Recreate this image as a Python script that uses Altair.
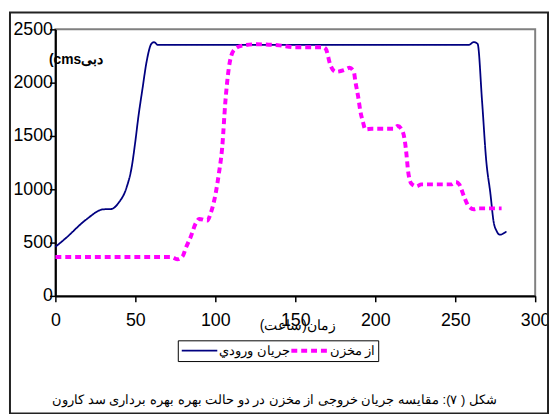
import altair as alt
import pandas as pd

# --- data ---
series_names = ["جريان ورودي", "از مخزن"]

inflow_x = [0, 6.6, 19, 30, 35, 39.5, 44.6, 47.7, 50, 51.8, 54.5, 57, 60, 61.7, 64,
            120, 200, 258.5, 261.6, 264, 266.8, 269.4, 272, 274, 276, 278, 282]
inflow_y = [460, 543, 713, 812, 815, 873, 1021, 1207, 1450, 1669, 1947, 2194, 2364, 2380, 2355,
            2355, 2355, 2355, 2380, 2364, 1824, 1268, 960, 697, 605, 574, 605]

outflow_x = [0, 72.4, 76.5, 79.6, 81.6, 84.7, 87.8, 89.9, 95, 97.1, 100.2, 102.2, 104.3, 106.3,
             108.4, 111.5, 115.6, 125, 140, 150, 167, 169, 172, 175.3, 180.4, 184, 186.6, 187.6,
             189.3, 190.7, 192.2, 193.8, 198, 211.3, 214, 216.5, 218.5, 219.5, 220.5, 222.6,
             225.7, 228.8, 247.3, 250.4, 252.5, 255.6, 258.6, 261.7, 264.8, 279]
outflow_y = [364, 364, 343, 373, 451, 558, 682, 722, 707, 775, 960, 1145, 1392, 1824,
             2132, 2303, 2343, 2360, 2350, 2333, 2333, 2318, 2163, 2102, 2117, 2139, 2102, 2009,
             1870, 1731, 1639, 1562, 1568, 1568, 1593, 1562, 1454, 1330, 1176, 1053,
             1028, 1046, 1046, 1068, 1046, 929, 836, 812, 821, 821]

x_ticks = [0, 50, 100, 150, 200, 250, 300]
y_ticks = [0, 500, 1000, 1500, 2000, 2500]

x_title = "زمان(ساعت)"
y_title = "(cmsدبی"
caption = "شکل ( ۷): مقایسه جریان خروجی از مخزن در دو حالت بهره بهره برداری سد کارون"

df = pd.concat([
    pd.DataFrame({"t": inflow_x, "q": inflow_y, "series": series_names[0]}),
    pd.DataFrame({"t": outflow_x, "q": outflow_y, "series": series_names[1]}),
], ignore_index=True)

FONT = "Liberation Sans"

lines = alt.Chart(df).mark_line(interpolate="monotone").encode(
    x=alt.X("t:Q", scale=alt.Scale(domain=[0, 300], nice=False),
            axis=alt.Axis(values=x_ticks, title=x_title, grid=False, format="d",
                          domainColor="black", domainWidth=2, tickColor="black", tickWidth=1.5,
                          tickSize=6, labelPadding=10, labelFontSize=18, labelFont=FONT,
                          labelColor="black", labelFlush=False, labelOverlap=False,
                          titleX=245, titleY=30, titleAlign="center", titleBaseline="middle",
                          titleFontSize=14, titleFontWeight="normal", titleColor="black")),
    y=alt.Y("q:Q", scale=alt.Scale(domain=[0, 2500], nice=False),
            axis=alt.Axis(values=y_ticks, title=y_title, grid=False, format="d",
                          domainColor="black", domainWidth=2, tickColor="black", tickWidth=1.5,
                          tickSize=6, labelPadding=-3, labelFontSize=18, labelFont=FONT,
                          labelColor="black", labelFlush=False, labelOverlap=False,
                          titleAngle=0, titleX=-7, titleY=31, titleAlign="left",
                          titleBaseline="middle", titleFontSize=14, titleFontWeight="bold",
                          titleColor="black")),
    color=alt.Color("series:N",
                    scale=alt.Scale(domain=series_names, range=["#000080", "#FF00FF"]),
                    legend=alt.Legend(orient="none", legendX=124, legendY=315,
                                      direction="horizontal", title=None,
                                      symbolType="stroke", symbolSize=1296, clipHeight=15,
                                      labelFontSize=13, labelColor="black",
                                      strokeColor="black", fillColor="white", padding=3,
                                      labelOffset=1, columnPadding=-50)),
    strokeDash=alt.StrokeDash("series:N",
                              scale=alt.Scale(domain=series_names, range=[[1, 0], [6, 4]])),
    strokeWidth=alt.StrokeWidth("series:N",
                                scale=alt.Scale(domain=series_names, range=[1.8, 4])),
)

frame = alt.Chart(pd.DataFrame({"a": [0]})).mark_rect(
    filled=False, color="#222222", strokeWidth=2
).encode(x=alt.value(-46), x2=alt.value(499), y=alt.value(-17), y2=alt.value(389))

chart = alt.layer(lines, frame).properties(
    width=486, height=270,
    autosize=alt.AutoSizeParams(type="none"),
    padding={"left": 48, "top": 19, "right": 14, "bottom": 117},
    title=alt.TitleParams(caption, orient="bottom", anchor="middle", frame="group",
                          offset=-20, dx=-21, fontSize=13, fontWeight="normal",
                          color="black"),
).configure_view(stroke="#808080", strokeWidth=2)

chart.save("out.html", embed_options={"renderer": "svg", "actions": False})
